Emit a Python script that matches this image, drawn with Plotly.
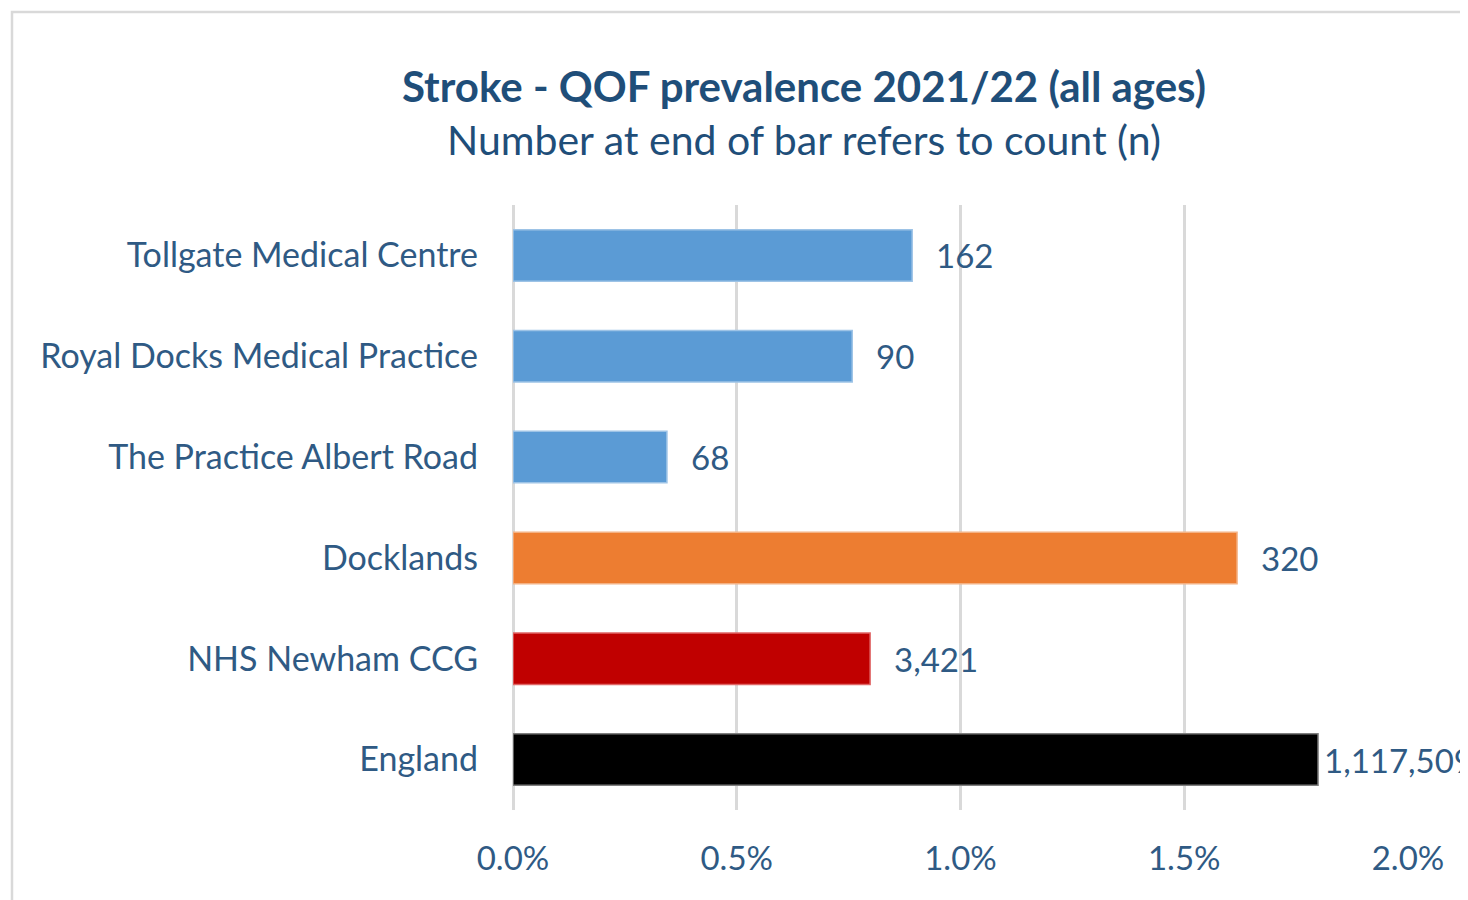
import plotly.graph_objects as go

categories = ["Tollgate Medical Centre", "Royal Docks Medical Practice", "The Practice Albert Road",
              "Docklands", "NHS Newham CCG", "England"]
prevalence = [0.892, 0.758, 0.344, 1.618, 0.798, 1.799]  # percent
counts = ["162", "90", "68", "320", "3,421", "1,117,509"]
bar_colors = ["#5B9BD5", "#5B9BD5", "#5B9BD5", "#ED7D31", "#C00000", "#000000"]
edge_colors = ["#9DC3E6", "#9DC3E6", "#9DC3E6", "#F4B183", "#E06666", "#7F7F7F"]
tick_vals = [0, 0.5, 1.0, 1.5, 2.0]
tick_text = ["0.0%", "0.5%", "1.0%", "1.5%", "2.0%"]
label_shift = [22, 22, 22, 22, 22, 4]

FONT = "Lato"
TXT = "#2F5A84"

fig = go.Figure()
fig.add_trace(go.Bar(
    y=categories, x=prevalence, orientation="h",
    marker=dict(color=bar_colors, line=dict(color=edge_colors, width=1.5)),
    hoverinfo="skip",
))

for c, v, t, s in zip(categories, prevalence, counts, label_shift):
    fig.add_annotation(x=v, y=c, text=t, xref="x", yref="y", xanchor="left", yanchor="middle",
                       xshift=s, showarrow=False, font=dict(family=FONT, size=33, color=TXT))

# page is offset by the 8px body margin
L, R, T, B = 505, 68, 197, 98
W, H = 1468, 900
pw, ph = W - L - R, H - T - B

def px_x(px):
    return (px - 8 - L) / pw

def px_y(py):
    return (H - B - (py - 8)) / ph

fig.add_annotation(x=px_x(804), y=px_y(86), xref="paper", yref="paper", text="<b>Stroke - QOF prevalence 2021/22 (all ages)</b>",
                   showarrow=False, xanchor="center", yanchor="middle",
                   font=dict(family=FONT, size=42, color="#1F4E79"))
fig.add_annotation(x=px_x(804), y=px_y(140), xref="paper", yref="paper", text="Number at end of bar refers to count (n)",
                   showarrow=False, xanchor="center", yanchor="middle",
                   font=dict(family=FONT, size=41, color="#1F4E79"))

fig.add_shape(type="rect", xref="paper", yref="paper", x0=px_x(12), x1=px_x(1600), y0=px_y(1000), y1=px_y(12),
              line=dict(color="#D9D9D9", width=2.5), fillcolor="rgba(0,0,0,0)", layer="below")

fig.update_layout(
    width=W, height=H, margin=dict(l=L, r=R, t=T, b=B, pad=0),
    paper_bgcolor="white", plot_bgcolor="white", showlegend=False, bargap=0.49,
    xaxis=dict(range=[0, 2.0], tickvals=tick_vals, ticktext=tick_text, showgrid=True,
               gridcolor="#D9D9D9", gridwidth=2.5, zeroline=True, zerolinecolor="#D9D9D9", zerolinewidth=2.5,
               showline=False, ticks="", ticklabelstandoff=26,
               tickfont=dict(family=FONT, size=33, color=TXT)),
    yaxis=dict(categoryorder="array", categoryarray=categories[::-1], showgrid=False, ticks="",
               ticklabelstandoff=34, tickfont=dict(family=FONT, size=34, color=TXT)),
)

fig.write_html("out.html")
